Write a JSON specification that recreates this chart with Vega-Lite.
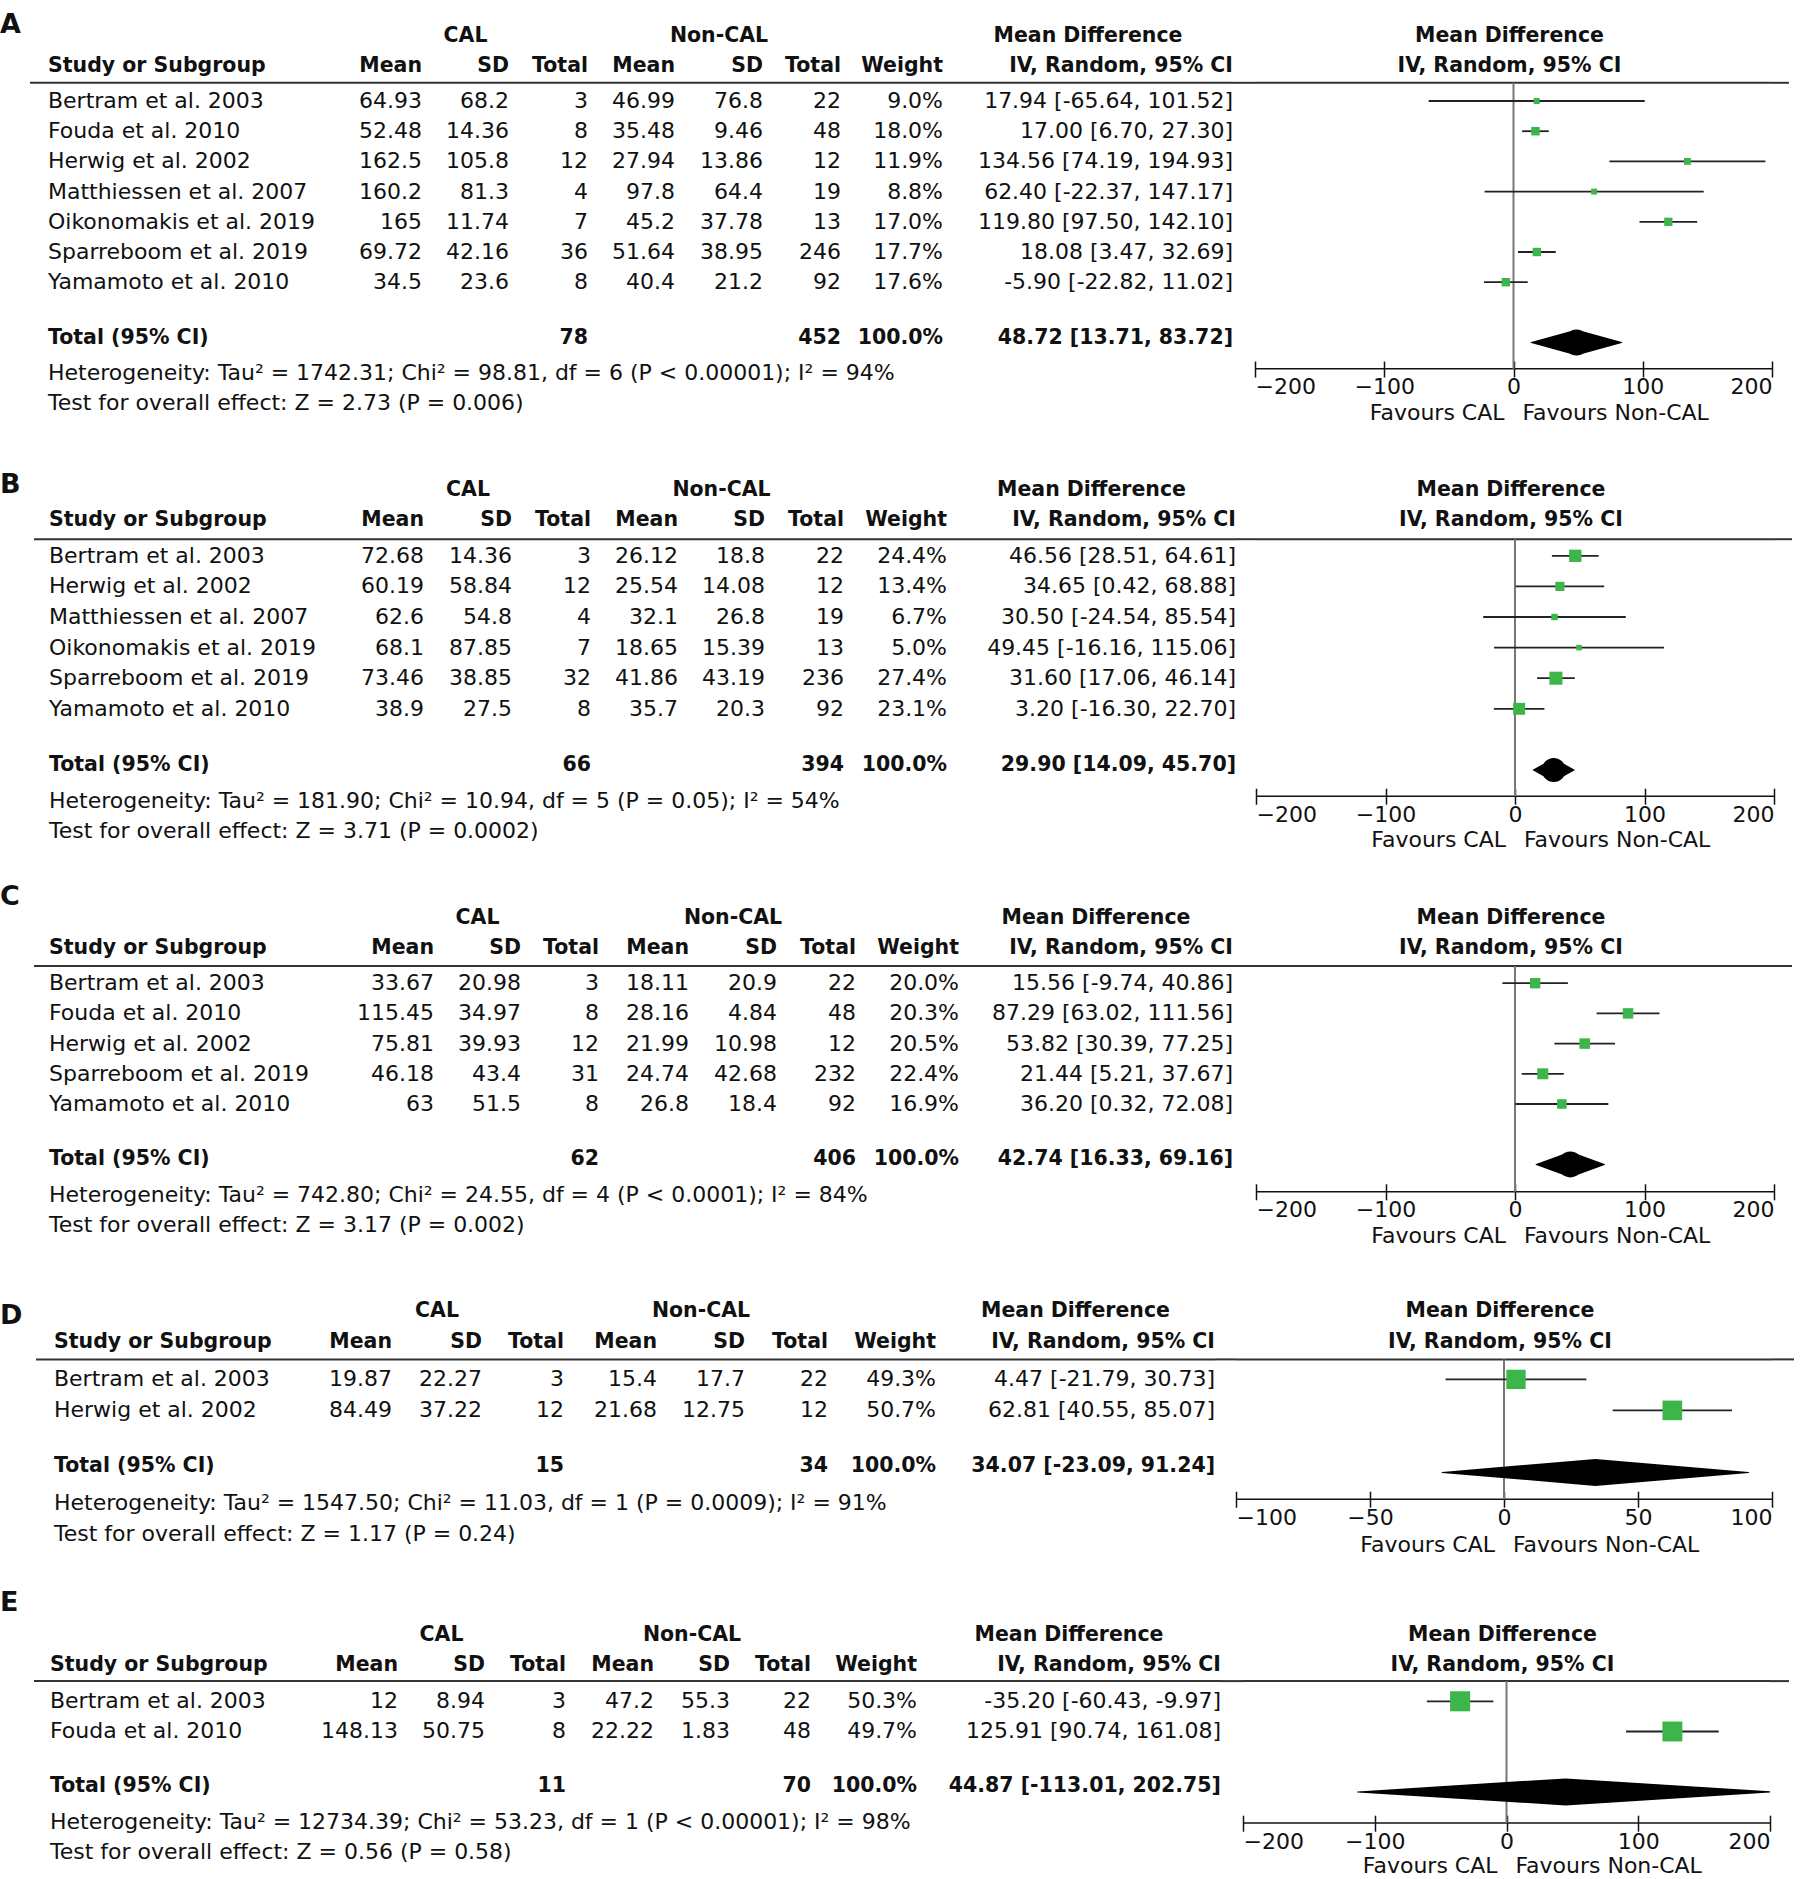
{
"$schema":"https://vega.github.io/schema/vega-lite/v6.json",
"background":"white",
"padding":{"top":10.4,"left":0,"right":0,"bottom":0},
"spacing":0,
"resolve":{"scale":{"size":"independent"}},
"config":{"view":{"stroke":null},"font":"DejaVu Sans","text":{"font":"DejaVu Sans","fontSize":22,"color":"#111","baseline":"middle"}},
"datasets":{
"A":[
{"r":"h1","lab":"A","csd":"CAL","nsd":"Non-CAL","ci":"Mean Difference","f":"Mean Difference"},
{"r":"h2","s":"Study or Subgroup","cm":"Mean","csd":"SD","cn":"Total","nm":"Mean","nsd":"SD","nn":"Total","w":"Weight","ci":"IV, Random, 95% CI","f":"IV, Random, 95% CI"},
{"r":"r1","s":"Bertram et al. 2003","cm":"64.93","csd":"68.2","cn":"3","nm":"46.99","nsd":"76.8","nn":"22","w":"9.0%","ci":"17.94 [-65.64, 101.52]","md":17.94,"lo":-65.64,"hi":101.52,"wt":9.0},
{"r":"r2","s":"Fouda et al. 2010","cm":"52.48","csd":"14.36","cn":"8","nm":"35.48","nsd":"9.46","nn":"48","w":"18.0%","ci":"17.00 [6.70, 27.30]","md":17.0,"lo":6.7,"hi":27.3,"wt":18.0},
{"r":"r3","s":"Herwig et al. 2002","cm":"162.5","csd":"105.8","cn":"12","nm":"27.94","nsd":"13.86","nn":"12","w":"11.9%","ci":"134.56 [74.19, 194.93]","md":134.56,"lo":74.19,"hi":194.93,"wt":11.9},
{"r":"r4","s":"Matthiessen et al. 2007","cm":"160.2","csd":"81.3","cn":"4","nm":"97.8","nsd":"64.4","nn":"19","w":"8.8%","ci":"62.40 [-22.37, 147.17]","md":62.4,"lo":-22.37,"hi":147.17,"wt":8.8},
{"r":"r5","s":"Oikonomakis et al. 2019","cm":"165","csd":"11.74","cn":"7","nm":"45.2","nsd":"37.78","nn":"13","w":"17.0%","ci":"119.80 [97.50, 142.10]","md":119.8,"lo":97.5,"hi":142.1,"wt":17.0},
{"r":"r6","s":"Sparreboom et al. 2019","cm":"69.72","csd":"42.16","cn":"36","nm":"51.64","nsd":"38.95","nn":"246","w":"17.7%","ci":"18.08 [3.47, 32.69]","md":18.08,"lo":3.47,"hi":32.69,"wt":17.7},
{"r":"r7","s":"Yamamoto et al. 2010","cm":"34.5","csd":"23.6","cn":"8","nm":"40.4","nsd":"21.2","nn":"92","w":"17.6%","ci":"-5.90 [-22.82, 11.02]","md":-5.9,"lo":-22.82,"hi":11.02,"wt":17.6},
{"r":"total","s":"Total (95% CI)","cn":"78","nn":"452","w":"100.0%","ci":"48.72 [13.71, 83.72]","md":48.72,"lo":13.71,"hi":83.72},
{"r":"het","s":"Heterogeneity: Tau² = 1742.31; Chi² = 98.81, df = 6 (P < 0.00001); I² = 94%"},
{"r":"test","s":"Test for overall effect: Z = 2.73 (P = 0.006)"}
],
"B":[
{"r":"h1","lab":"B","csd":"CAL","nsd":"Non-CAL","ci":"Mean Difference","f":"Mean Difference"},
{"r":"h2","s":"Study or Subgroup","cm":"Mean","csd":"SD","cn":"Total","nm":"Mean","nsd":"SD","nn":"Total","w":"Weight","ci":"IV, Random, 95% CI","f":"IV, Random, 95% CI"},
{"r":"r1","s":"Bertram et al. 2003","cm":"72.68","csd":"14.36","cn":"3","nm":"26.12","nsd":"18.8","nn":"22","w":"24.4%","ci":"46.56 [28.51, 64.61]","md":46.56,"lo":28.51,"hi":64.61,"wt":24.4},
{"r":"r2","s":"Herwig et al. 2002","cm":"60.19","csd":"58.84","cn":"12","nm":"25.54","nsd":"14.08","nn":"12","w":"13.4%","ci":"34.65 [0.42, 68.88]","md":34.65,"lo":0.42,"hi":68.88,"wt":13.4},
{"r":"r3","s":"Matthiessen et al. 2007","cm":"62.6","csd":"54.8","cn":"4","nm":"32.1","nsd":"26.8","nn":"19","w":"6.7%","ci":"30.50 [-24.54, 85.54]","md":30.5,"lo":-24.54,"hi":85.54,"wt":6.7},
{"r":"r4","s":"Oikonomakis et al. 2019","cm":"68.1","csd":"87.85","cn":"7","nm":"18.65","nsd":"15.39","nn":"13","w":"5.0%","ci":"49.45 [-16.16, 115.06]","md":49.45,"lo":-16.16,"hi":115.06,"wt":5.0},
{"r":"r5","s":"Sparreboom et al. 2019","cm":"73.46","csd":"38.85","cn":"32","nm":"41.86","nsd":"43.19","nn":"236","w":"27.4%","ci":"31.60 [17.06, 46.14]","md":31.6,"lo":17.06,"hi":46.14,"wt":27.4},
{"r":"r6","s":"Yamamoto et al. 2010","cm":"38.9","csd":"27.5","cn":"8","nm":"35.7","nsd":"20.3","nn":"92","w":"23.1%","ci":"3.20 [-16.30, 22.70]","md":3.2,"lo":-16.3,"hi":22.7,"wt":23.1},
{"r":"total","s":"Total (95% CI)","cn":"66","nn":"394","w":"100.0%","ci":"29.90 [14.09, 45.70]","md":29.9,"lo":14.09,"hi":45.7},
{"r":"het","s":"Heterogeneity: Tau² = 181.90; Chi² = 10.94, df = 5 (P = 0.05); I² = 54%"},
{"r":"test","s":"Test for overall effect: Z = 3.71 (P = 0.0002)"}
],
"C":[
{"r":"h1","lab":"C","csd":"CAL","nsd":"Non-CAL","ci":"Mean Difference","f":"Mean Difference"},
{"r":"h2","s":"Study or Subgroup","cm":"Mean","csd":"SD","cn":"Total","nm":"Mean","nsd":"SD","nn":"Total","w":"Weight","ci":"IV, Random, 95% CI","f":"IV, Random, 95% CI"},
{"r":"r1","s":"Bertram et al. 2003","cm":"33.67","csd":"20.98","cn":"3","nm":"18.11","nsd":"20.9","nn":"22","w":"20.0%","ci":"15.56 [-9.74, 40.86]","md":15.56,"lo":-9.74,"hi":40.86,"wt":20.0},
{"r":"r2","s":"Fouda et al. 2010","cm":"115.45","csd":"34.97","cn":"8","nm":"28.16","nsd":"4.84","nn":"48","w":"20.3%","ci":"87.29 [63.02, 111.56]","md":87.29,"lo":63.02,"hi":111.56,"wt":20.3},
{"r":"r3","s":"Herwig et al. 2002","cm":"75.81","csd":"39.93","cn":"12","nm":"21.99","nsd":"10.98","nn":"12","w":"20.5%","ci":"53.82 [30.39, 77.25]","md":53.82,"lo":30.39,"hi":77.25,"wt":20.5},
{"r":"r4","s":"Sparreboom et al. 2019","cm":"46.18","csd":"43.4","cn":"31","nm":"24.74","nsd":"42.68","nn":"232","w":"22.4%","ci":"21.44 [5.21, 37.67]","md":21.44,"lo":5.21,"hi":37.67,"wt":22.4},
{"r":"r5","s":"Yamamoto et al. 2010","cm":"63","csd":"51.5","cn":"8","nm":"26.8","nsd":"18.4","nn":"92","w":"16.9%","ci":"36.20 [0.32, 72.08]","md":36.2,"lo":0.32,"hi":72.08,"wt":16.9},
{"r":"total","s":"Total (95% CI)","cn":"62","nn":"406","w":"100.0%","ci":"42.74 [16.33, 69.16]","md":42.74,"lo":16.33,"hi":69.16},
{"r":"het","s":"Heterogeneity: Tau² = 742.80; Chi² = 24.55, df = 4 (P < 0.0001); I² = 84%"},
{"r":"test","s":"Test for overall effect: Z = 3.17 (P = 0.002)"}
],
"D":[
{"r":"h1","lab":"D","csd":"CAL","nsd":"Non-CAL","ci":"Mean Difference","f":"Mean Difference"},
{"r":"h2","s":"Study or Subgroup","cm":"Mean","csd":"SD","cn":"Total","nm":"Mean","nsd":"SD","nn":"Total","w":"Weight","ci":"IV, Random, 95% CI","f":"IV, Random, 95% CI"},
{"r":"r1","s":"Bertram et al. 2003","cm":"19.87","csd":"22.27","cn":"3","nm":"15.4","nsd":"17.7","nn":"22","w":"49.3%","ci":"4.47 [-21.79, 30.73]","md":4.47,"lo":-21.79,"hi":30.73,"wt":49.3},
{"r":"r2","s":"Herwig et al. 2002","cm":"84.49","csd":"37.22","cn":"12","nm":"21.68","nsd":"12.75","nn":"12","w":"50.7%","ci":"62.81 [40.55, 85.07]","md":62.81,"lo":40.55,"hi":85.07,"wt":50.7},
{"r":"total","s":"Total (95% CI)","cn":"15","nn":"34","w":"100.0%","ci":"34.07 [-23.09, 91.24]","md":34.07,"lo":-23.09,"hi":91.24},
{"r":"het","s":"Heterogeneity: Tau² = 1547.50; Chi² = 11.03, df = 1 (P = 0.0009); I² = 91%"},
{"r":"test","s":"Test for overall effect: Z = 1.17 (P = 0.24)"}
],
"E":[
{"r":"h1","lab":"E","csd":"CAL","nsd":"Non-CAL","ci":"Mean Difference","f":"Mean Difference"},
{"r":"h2","s":"Study or Subgroup","cm":"Mean","csd":"SD","cn":"Total","nm":"Mean","nsd":"SD","nn":"Total","w":"Weight","ci":"IV, Random, 95% CI","f":"IV, Random, 95% CI"},
{"r":"r1","s":"Bertram et al. 2003","cm":"12","csd":"8.94","cn":"3","nm":"47.2","nsd":"55.3","nn":"22","w":"50.3%","ci":"-35.20 [-60.43, -9.97]","md":-35.2,"lo":-60.43,"hi":-9.97,"wt":50.3},
{"r":"r2","s":"Fouda et al. 2010","cm":"148.13","csd":"50.75","cn":"8","nm":"22.22","nsd":"1.83","nn":"48","w":"49.7%","ci":"125.91 [90.74, 161.08]","md":125.91,"lo":90.74,"hi":161.08,"wt":49.7},
{"r":"total","s":"Total (95% CI)","cn":"11","nn":"70","w":"100.0%","ci":"44.87 [-113.01, 202.75]","md":44.87,"lo":-113.01,"hi":202.75},
{"r":"het","s":"Heterogeneity: Tau² = 12734.39; Chi² = 53.23, df = 1 (P < 0.00001); I² = 98%"},
{"r":"test","s":"Test for overall effect: Z = 0.56 (P = 0.58)"}
]
},
"vconcat":[
{"data":{"name":"A"},"spacing":0,"bounds":"flush","hconcat":[
{"width":30,"height":422.8,"transform":[{"filter":"datum.r=='h1'"}],"mark":{"type":"text","align":"left","fontWeight":"bold","fontSize":27,"dy":-16},"encoding":{"y":{"field":"r","type":"nominal","axis":null,"scale":{"type":"point","domain":["t1","h1","h2","r1","r2","r3","r4","r5","r6","r7","sp","total","het","test","b1"],"padding":0,"round":false}},"x":{"value":0},"text":{"field":"lab"}}},
{"width":392,"height":422.8,"encoding":{"y":{"field":"r","type":"nominal","axis":null,"scale":{"type":"point","domain":["t1","h1","h2","r1","r2","r3","r4","r5","r6","r7","sp","total","het","test","b1"],"padding":0,"round":false}}},"layer":[
{"transform":[{"filter":"substring(datum.r,0,1)=='r'||datum.r=='het'||datum.r=='test'"}],"mark":{"type":"text","align":"left","dx":18},"encoding":{"x":{"value":0},"text":{"field":"s"}}},
{"transform":[{"filter":"datum.r=='h2'||datum.r=='total'"}],"mark":{"type":"text","align":"left","dx":18,"dy":-5,"fontWeight":"bold","fontSize":20.5},"encoding":{"x":{"value":0},"text":{"field":"s"}}},
{"transform":[{"filter":"substring(datum.r,0,1)=='r'"}],"mark":{"type":"text","align":"right"},"encoding":{"x":{"value":"width"},"text":{"field":"cm"}}},
{"transform":[{"filter":"datum.r=='h2'"}],"mark":{"type":"text","align":"right","dy":-5,"fontWeight":"bold","fontSize":20.5},"encoding":{"x":{"value":"width"},"text":{"field":"cm"}}},
{"transform":[{"filter":"datum.r=='h2'"}],"mark":{"type":"rule","yOffset":12,"color":"#333","strokeWidth":2},"encoding":{}}
]},
{"width":87,"height":422.8,"encoding":{"y":{"field":"r","type":"nominal","axis":null,"scale":{"type":"point","domain":["t1","h1","h2","r1","r2","r3","r4","r5","r6","r7","sp","total","het","test","b1"],"padding":0,"round":false}}},"layer":[
{"transform":[{"filter":"substring(datum.r,0,1)=='r'"}],"mark":{"type":"text","align":"right"},"encoding":{"x":{"value":"width"},"text":{"field":"csd"}}},
{"transform":[{"filter":"datum.r=='h2'"}],"mark":{"type":"text","align":"right","dy":-5,"fontWeight":"bold","fontSize":20.5},"encoding":{"x":{"value":"width"},"text":{"field":"csd"}}},
{"transform":[{"filter":"datum.r=='h1'"}],"mark":{"type":"text","align":"center","dy":-5,"fontWeight":"bold","fontSize":20.5},"encoding":{"text":{"field":"csd"}}},
{"transform":[{"filter":"datum.r=='h2'"}],"mark":{"type":"rule","yOffset":12,"color":"#333","strokeWidth":2},"encoding":{}}
]},
{"width":79,"height":422.8,"encoding":{"y":{"field":"r","type":"nominal","axis":null,"scale":{"type":"point","domain":["t1","h1","h2","r1","r2","r3","r4","r5","r6","r7","sp","total","het","test","b1"],"padding":0,"round":false}}},"layer":[
{"transform":[{"filter":"substring(datum.r,0,1)=='r'"}],"mark":{"type":"text","align":"right"},"encoding":{"x":{"value":"width"},"text":{"field":"cn"}}},
{"transform":[{"filter":"datum.r=='h2'||datum.r=='total'"}],"mark":{"type":"text","align":"right","dy":-5,"fontWeight":"bold","fontSize":20.5},"encoding":{"x":{"value":"width"},"text":{"field":"cn"}}},
{"transform":[{"filter":"datum.r=='h2'"}],"mark":{"type":"rule","yOffset":12,"color":"#333","strokeWidth":2},"encoding":{}}
]},
{"width":87,"height":422.8,"encoding":{"y":{"field":"r","type":"nominal","axis":null,"scale":{"type":"point","domain":["t1","h1","h2","r1","r2","r3","r4","r5","r6","r7","sp","total","het","test","b1"],"padding":0,"round":false}}},"layer":[
{"transform":[{"filter":"substring(datum.r,0,1)=='r'"}],"mark":{"type":"text","align":"right"},"encoding":{"x":{"value":"width"},"text":{"field":"nm"}}},
{"transform":[{"filter":"datum.r=='h2'"}],"mark":{"type":"text","align":"right","dy":-5,"fontWeight":"bold","fontSize":20.5},"encoding":{"x":{"value":"width"},"text":{"field":"nm"}}},
{"transform":[{"filter":"datum.r=='h2'"}],"mark":{"type":"rule","yOffset":12,"color":"#333","strokeWidth":2},"encoding":{}}
]},
{"width":88,"height":422.8,"encoding":{"y":{"field":"r","type":"nominal","axis":null,"scale":{"type":"point","domain":["t1","h1","h2","r1","r2","r3","r4","r5","r6","r7","sp","total","het","test","b1"],"padding":0,"round":false}}},"layer":[
{"transform":[{"filter":"substring(datum.r,0,1)=='r'"}],"mark":{"type":"text","align":"right"},"encoding":{"x":{"value":"width"},"text":{"field":"nsd"}}},
{"transform":[{"filter":"datum.r=='h2'"}],"mark":{"type":"text","align":"right","dy":-5,"fontWeight":"bold","fontSize":20.5},"encoding":{"x":{"value":"width"},"text":{"field":"nsd"}}},
{"transform":[{"filter":"datum.r=='h1'"}],"mark":{"type":"text","align":"center","dy":-5,"fontWeight":"bold","fontSize":20.5},"encoding":{"text":{"field":"nsd"}}},
{"transform":[{"filter":"datum.r=='h2'"}],"mark":{"type":"rule","yOffset":12,"color":"#333","strokeWidth":2},"encoding":{}}
]},
{"width":78,"height":422.8,"encoding":{"y":{"field":"r","type":"nominal","axis":null,"scale":{"type":"point","domain":["t1","h1","h2","r1","r2","r3","r4","r5","r6","r7","sp","total","het","test","b1"],"padding":0,"round":false}}},"layer":[
{"transform":[{"filter":"substring(datum.r,0,1)=='r'"}],"mark":{"type":"text","align":"right"},"encoding":{"x":{"value":"width"},"text":{"field":"nn"}}},
{"transform":[{"filter":"datum.r=='h2'||datum.r=='total'"}],"mark":{"type":"text","align":"right","dy":-5,"fontWeight":"bold","fontSize":20.5},"encoding":{"x":{"value":"width"},"text":{"field":"nn"}}},
{"transform":[{"filter":"datum.r=='h2'"}],"mark":{"type":"rule","yOffset":12,"color":"#333","strokeWidth":2},"encoding":{}}
]},
{"width":102,"height":422.8,"encoding":{"y":{"field":"r","type":"nominal","axis":null,"scale":{"type":"point","domain":["t1","h1","h2","r1","r2","r3","r4","r5","r6","r7","sp","total","het","test","b1"],"padding":0,"round":false}}},"layer":[
{"transform":[{"filter":"substring(datum.r,0,1)=='r'"}],"mark":{"type":"text","align":"right"},"encoding":{"x":{"value":"width"},"text":{"field":"w"}}},
{"transform":[{"filter":"datum.r=='h2'||datum.r=='total'"}],"mark":{"type":"text","align":"right","dy":-5,"fontWeight":"bold","fontSize":20.5},"encoding":{"x":{"value":"width"},"text":{"field":"w"}}},
{"transform":[{"filter":"datum.r=='h2'"}],"mark":{"type":"rule","yOffset":12,"color":"#333","strokeWidth":2},"encoding":{}}
]},
{"width":290,"height":422.8,"encoding":{"y":{"field":"r","type":"nominal","axis":null,"scale":{"type":"point","domain":["t1","h1","h2","r1","r2","r3","r4","r5","r6","r7","sp","total","het","test","b1"],"padding":0,"round":false}}},"layer":[
{"transform":[{"filter":"substring(datum.r,0,1)=='r'"}],"mark":{"type":"text","align":"right"},"encoding":{"x":{"value":"width"},"text":{"field":"ci"}}},
{"transform":[{"filter":"datum.r=='h2'||datum.r=='total'"}],"mark":{"type":"text","align":"right","dy":-5,"fontWeight":"bold","fontSize":20.5},"encoding":{"x":{"value":"width"},"text":{"field":"ci"}}},
{"transform":[{"filter":"datum.r=='h1'"}],"mark":{"type":"text","align":"center","dy":-5,"fontWeight":"bold","fontSize":20.5},"encoding":{"text":{"field":"ci"}}},
{"transform":[{"filter":"datum.r=='h2'"}],"mark":{"type":"rule","yOffset":12,"color":"#333","strokeWidth":2},"encoding":{}}
]},
{"width":22,"height":422.8,"transform":[{"filter":"datum.r=='h2'"}],"mark":{"type":"rule","yOffset":12,"color":"#333","strokeWidth":2},"encoding":{"y":{"field":"r","type":"nominal","axis":null,"scale":{"type":"point","domain":["t1","h1","h2","r1","r2","r3","r4","r5","r6","r7","sp","total","het","test","b1"],"padding":0,"round":false}}}},
{"width":517,"height":422.8,"encoding":{"y":{"field":"r","type":"nominal","axis":null,"scale":{"type":"point","domain":["t1","h1","h2","r1","r2","r3","r4","r5","r6","r7","sp","total","het","test","b1"],"padding":0,"round":false}}},"layer":[
{"transform":[{"filter":"datum.r=='h1'||datum.r=='h2'"}],"mark":{"type":"text","align":"center","dx":-4,"dy":-5,"fontWeight":"bold","fontSize":20.5},"encoding":{"x":{"datum":0,"type":"quantitative","scale":{"domain":[-200,200],"nice":false,"zero":false},"axis":{"values":[-200,-100,0,100,200],"labelFlush":true,"title":null,"grid":false,"offset":-72.2,"domain":false,"tickColor":"#111","tickWidth":1.5,"tickSize":16,"labelPadding":0,"labelFontSize":22,"labelColor":"#111","labelFont":"DejaVu Sans"}},"text":{"field":"f"}}},
{"transform":[{"filter":"datum.r=='h2'"}],"mark":{"type":"rule","yOffset":12,"color":"#333","strokeWidth":2},"encoding":{}},
{"transform":[{"filter":"datum.r=='h2'"}],"mark":{"type":"rule","yOffset":-4,"color":"#111","strokeWidth":1.5},"encoding":{"y":{"datum":"het","type":"nominal"}}},
{"transform":[{"filter":"datum.r=='h2'"}],"mark":{"type":"rule","yOffset":12,"y2Offset":-4,"color":"#777","strokeWidth":2},"encoding":{"x":{"datum":0,"type":"quantitative","scale":{"domain":[-200,200],"nice":false,"zero":false},"axis":{"values":[-200,-100,0,100,200],"labelFlush":true,"title":null,"grid":false,"offset":-72.2,"domain":false,"tickColor":"#111","tickWidth":1.5,"tickSize":16,"labelPadding":0,"labelFontSize":22,"labelColor":"#111","labelFont":"DejaVu Sans"}},"y":{"datum":"h2","type":"nominal"},"y2":{"datum":"het"}}},
{"transform":[{"filter":"substring(datum.r,0,1)=='r'"}],"mark":{"type":"rule","color":"#222","strokeWidth":1.8},"encoding":{"x":{"field":"lo","type":"quantitative","scale":{"domain":[-200,200],"nice":false,"zero":false},"axis":{"values":[-200,-100,0,100,200],"labelFlush":true,"title":null,"grid":false,"offset":-72.2,"domain":false,"tickColor":"#111","tickWidth":1.5,"tickSize":16,"labelPadding":0,"labelFontSize":22,"labelColor":"#111","labelFont":"DejaVu Sans"}},"x2":{"field":"hi"}}},
{"transform":[{"filter":"substring(datum.r,0,1)=='r'"}],"mark":{"type":"square","filled":true,"color":"#3cb54a","opacity":1},"encoding":{"x":{"field":"md","type":"quantitative","scale":{"domain":[-200,200],"nice":false,"zero":false},"axis":{"values":[-200,-100,0,100,200],"labelFlush":true,"title":null,"grid":false,"offset":-72.2,"domain":false,"tickColor":"#111","tickWidth":1.5,"tickSize":16,"labelPadding":0,"labelFontSize":22,"labelColor":"#111","labelFont":"DejaVu Sans"}},"size":{"field":"wt","type":"quantitative","scale":{"domain":[0,50],"range":[0,200]},"legend":null}}},
{"transform":[{"filter":"datum.r=='total'"},{"fold":["lo","md","hi"],"as":["k","v"]}],"mark":{"type":"trail","color":"#000","clip":true},"encoding":{"x":{"field":"v","type":"quantitative","scale":{"domain":[-200,200],"nice":false,"zero":false},"axis":{"values":[-200,-100,0,100,200],"labelFlush":true,"title":null,"grid":false,"offset":-72.2,"domain":false,"tickColor":"#111","tickWidth":1.5,"tickSize":16,"labelPadding":0,"labelFontSize":22,"labelColor":"#111","labelFont":"DejaVu Sans"}},"size":{"condition":{"test":"datum.k=='md'","value":26},"value":0}}},
{"transform":[{"filter":"datum.r=='test'"}],"mark":{"type":"text","align":"right","dx":-9,"dy":10},"encoding":{"x":{"datum":0,"type":"quantitative","scale":{"domain":[-200,200],"nice":false,"zero":false},"axis":{"values":[-200,-100,0,100,200],"labelFlush":true,"title":null,"grid":false,"offset":-72.2,"domain":false,"tickColor":"#111","tickWidth":1.5,"tickSize":16,"labelPadding":0,"labelFontSize":22,"labelColor":"#111","labelFont":"DejaVu Sans"}},"text":{"value":"Favours CAL"}}},
{"transform":[{"filter":"datum.r=='test'"}],"mark":{"type":"text","align":"left","dx":9,"dy":10},"encoding":{"x":{"datum":0,"type":"quantitative","scale":{"domain":[-200,200],"nice":false,"zero":false},"axis":{"values":[-200,-100,0,100,200],"labelFlush":true,"title":null,"grid":false,"offset":-72.2,"domain":false,"tickColor":"#111","tickWidth":1.5,"tickSize":16,"labelPadding":0,"labelFontSize":22,"labelColor":"#111","labelFont":"DejaVu Sans"}},"text":{"value":"Favours Non-CAL"}}}
]},
{"width":17,"height":422.8,"transform":[{"filter":"datum.r=='h2'"}],"mark":{"type":"rule","yOffset":12,"color":"#333","strokeWidth":2},"encoding":{"y":{"field":"r","type":"nominal","axis":null,"scale":{"type":"point","domain":["t1","h1","h2","r1","r2","r3","r4","r5","r6","r7","sp","total","het","test","b1"],"padding":0,"round":false}}}}
]},
{"data":{"name":"B"},"spacing":0,"bounds":"flush","hconcat":[
{"width":34,"height":428.4,"transform":[{"filter":"datum.r=='h1'"}],"mark":{"type":"text","align":"left","fontWeight":"bold","fontSize":27,"dy":-10},"encoding":{"y":{"field":"r","type":"nominal","axis":null,"scale":{"type":"point","domain":["t1","t2","h1","h2","r1","r2","r3","r4","r5","r6","sp","total","het","test","b1"],"padding":0,"round":false}},"x":{"value":0},"text":{"field":"lab"}}},
{"width":390,"height":428.4,"encoding":{"y":{"field":"r","type":"nominal","axis":null,"scale":{"type":"point","domain":["t1","t2","h1","h2","r1","r2","r3","r4","r5","r6","sp","total","het","test","b1"],"padding":0,"round":false}}},"layer":[
{"transform":[{"filter":"substring(datum.r,0,1)=='r'||datum.r=='het'||datum.r=='test'"}],"mark":{"type":"text","align":"left","dx":15},"encoding":{"x":{"value":0},"text":{"field":"s"}}},
{"transform":[{"filter":"datum.r=='h2'||datum.r=='total'"}],"mark":{"type":"text","align":"left","dx":15,"dy":-5,"fontWeight":"bold","fontSize":20.5},"encoding":{"x":{"value":0},"text":{"field":"s"}}},
{"transform":[{"filter":"substring(datum.r,0,1)=='r'"}],"mark":{"type":"text","align":"right"},"encoding":{"x":{"value":"width"},"text":{"field":"cm"}}},
{"transform":[{"filter":"datum.r=='h2'"}],"mark":{"type":"text","align":"right","dy":-5,"fontWeight":"bold","fontSize":20.5},"encoding":{"x":{"value":"width"},"text":{"field":"cm"}}},
{"transform":[{"filter":"datum.r=='h2'"}],"mark":{"type":"rule","yOffset":14,"color":"#333","strokeWidth":2},"encoding":{}}
]},
{"width":88,"height":428.4,"encoding":{"y":{"field":"r","type":"nominal","axis":null,"scale":{"type":"point","domain":["t1","t2","h1","h2","r1","r2","r3","r4","r5","r6","sp","total","het","test","b1"],"padding":0,"round":false}}},"layer":[
{"transform":[{"filter":"substring(datum.r,0,1)=='r'"}],"mark":{"type":"text","align":"right"},"encoding":{"x":{"value":"width"},"text":{"field":"csd"}}},
{"transform":[{"filter":"datum.r=='h2'"}],"mark":{"type":"text","align":"right","dy":-5,"fontWeight":"bold","fontSize":20.5},"encoding":{"x":{"value":"width"},"text":{"field":"csd"}}},
{"transform":[{"filter":"datum.r=='h1'"}],"mark":{"type":"text","align":"center","dy":-5,"fontWeight":"bold","fontSize":20.5},"encoding":{"text":{"field":"csd"}}},
{"transform":[{"filter":"datum.r=='h2'"}],"mark":{"type":"rule","yOffset":14,"color":"#333","strokeWidth":2},"encoding":{}}
]},
{"width":79,"height":428.4,"encoding":{"y":{"field":"r","type":"nominal","axis":null,"scale":{"type":"point","domain":["t1","t2","h1","h2","r1","r2","r3","r4","r5","r6","sp","total","het","test","b1"],"padding":0,"round":false}}},"layer":[
{"transform":[{"filter":"substring(datum.r,0,1)=='r'"}],"mark":{"type":"text","align":"right"},"encoding":{"x":{"value":"width"},"text":{"field":"cn"}}},
{"transform":[{"filter":"datum.r=='h2'||datum.r=='total'"}],"mark":{"type":"text","align":"right","dy":-5,"fontWeight":"bold","fontSize":20.5},"encoding":{"x":{"value":"width"},"text":{"field":"cn"}}},
{"transform":[{"filter":"datum.r=='h2'"}],"mark":{"type":"rule","yOffset":14,"color":"#333","strokeWidth":2},"encoding":{}}
]},
{"width":87,"height":428.4,"encoding":{"y":{"field":"r","type":"nominal","axis":null,"scale":{"type":"point","domain":["t1","t2","h1","h2","r1","r2","r3","r4","r5","r6","sp","total","het","test","b1"],"padding":0,"round":false}}},"layer":[
{"transform":[{"filter":"substring(datum.r,0,1)=='r'"}],"mark":{"type":"text","align":"right"},"encoding":{"x":{"value":"width"},"text":{"field":"nm"}}},
{"transform":[{"filter":"datum.r=='h2'"}],"mark":{"type":"text","align":"right","dy":-5,"fontWeight":"bold","fontSize":20.5},"encoding":{"x":{"value":"width"},"text":{"field":"nm"}}},
{"transform":[{"filter":"datum.r=='h2'"}],"mark":{"type":"rule","yOffset":14,"color":"#333","strokeWidth":2},"encoding":{}}
]},
{"width":87,"height":428.4,"encoding":{"y":{"field":"r","type":"nominal","axis":null,"scale":{"type":"point","domain":["t1","t2","h1","h2","r1","r2","r3","r4","r5","r6","sp","total","het","test","b1"],"padding":0,"round":false}}},"layer":[
{"transform":[{"filter":"substring(datum.r,0,1)=='r'"}],"mark":{"type":"text","align":"right"},"encoding":{"x":{"value":"width"},"text":{"field":"nsd"}}},
{"transform":[{"filter":"datum.r=='h2'"}],"mark":{"type":"text","align":"right","dy":-5,"fontWeight":"bold","fontSize":20.5},"encoding":{"x":{"value":"width"},"text":{"field":"nsd"}}},
{"transform":[{"filter":"datum.r=='h1'"}],"mark":{"type":"text","align":"center","dy":-5,"fontWeight":"bold","fontSize":20.5},"encoding":{"text":{"field":"nsd"}}},
{"transform":[{"filter":"datum.r=='h2'"}],"mark":{"type":"rule","yOffset":14,"color":"#333","strokeWidth":2},"encoding":{}}
]},
{"width":79,"height":428.4,"encoding":{"y":{"field":"r","type":"nominal","axis":null,"scale":{"type":"point","domain":["t1","t2","h1","h2","r1","r2","r3","r4","r5","r6","sp","total","het","test","b1"],"padding":0,"round":false}}},"layer":[
{"transform":[{"filter":"substring(datum.r,0,1)=='r'"}],"mark":{"type":"text","align":"right"},"encoding":{"x":{"value":"width"},"text":{"field":"nn"}}},
{"transform":[{"filter":"datum.r=='h2'||datum.r=='total'"}],"mark":{"type":"text","align":"right","dy":-5,"fontWeight":"bold","fontSize":20.5},"encoding":{"x":{"value":"width"},"text":{"field":"nn"}}},
{"transform":[{"filter":"datum.r=='h2'"}],"mark":{"type":"rule","yOffset":14,"color":"#333","strokeWidth":2},"encoding":{}}
]},
{"width":103,"height":428.4,"encoding":{"y":{"field":"r","type":"nominal","axis":null,"scale":{"type":"point","domain":["t1","t2","h1","h2","r1","r2","r3","r4","r5","r6","sp","total","het","test","b1"],"padding":0,"round":false}}},"layer":[
{"transform":[{"filter":"substring(datum.r,0,1)=='r'"}],"mark":{"type":"text","align":"right"},"encoding":{"x":{"value":"width"},"text":{"field":"w"}}},
{"transform":[{"filter":"datum.r=='h2'||datum.r=='total'"}],"mark":{"type":"text","align":"right","dy":-5,"fontWeight":"bold","fontSize":20.5},"encoding":{"x":{"value":"width"},"text":{"field":"w"}}},
{"transform":[{"filter":"datum.r=='h2'"}],"mark":{"type":"rule","yOffset":14,"color":"#333","strokeWidth":2},"encoding":{}}
]},
{"width":289,"height":428.4,"encoding":{"y":{"field":"r","type":"nominal","axis":null,"scale":{"type":"point","domain":["t1","t2","h1","h2","r1","r2","r3","r4","r5","r6","sp","total","het","test","b1"],"padding":0,"round":false}}},"layer":[
{"transform":[{"filter":"substring(datum.r,0,1)=='r'"}],"mark":{"type":"text","align":"right"},"encoding":{"x":{"value":"width"},"text":{"field":"ci"}}},
{"transform":[{"filter":"datum.r=='h2'||datum.r=='total'"}],"mark":{"type":"text","align":"right","dy":-5,"fontWeight":"bold","fontSize":20.5},"encoding":{"x":{"value":"width"},"text":{"field":"ci"}}},
{"transform":[{"filter":"datum.r=='h1'"}],"mark":{"type":"text","align":"center","dy":-5,"fontWeight":"bold","fontSize":20.5},"encoding":{"text":{"field":"ci"}}},
{"transform":[{"filter":"datum.r=='h2'"}],"mark":{"type":"rule","yOffset":14,"color":"#333","strokeWidth":2},"encoding":{}}
]},
{"width":20,"height":428.4,"transform":[{"filter":"datum.r=='h2'"}],"mark":{"type":"rule","yOffset":14,"color":"#333","strokeWidth":2},"encoding":{"y":{"field":"r","type":"nominal","axis":null,"scale":{"type":"point","domain":["t1","t2","h1","h2","r1","r2","r3","r4","r5","r6","sp","total","het","test","b1"],"padding":0,"round":false}}}},
{"width":518,"height":428.4,"encoding":{"y":{"field":"r","type":"nominal","axis":null,"scale":{"type":"point","domain":["t1","t2","h1","h2","r1","r2","r3","r4","r5","r6","sp","total","het","test","b1"],"padding":0,"round":false}}},"layer":[
{"transform":[{"filter":"datum.r=='h1'||datum.r=='h2'"}],"mark":{"type":"text","align":"center","dx":-4,"dy":-5,"fontWeight":"bold","fontSize":20.5},"encoding":{"x":{"datum":0,"type":"quantitative","scale":{"domain":[-200,200],"nice":false,"zero":false},"axis":{"values":[-200,-100,0,100,200],"labelFlush":true,"title":null,"grid":false,"offset":-73.6,"domain":false,"tickColor":"#111","tickWidth":1.5,"tickSize":16,"labelPadding":0,"labelFontSize":22,"labelColor":"#111","labelFont":"DejaVu Sans"}},"text":{"field":"f"}}},
{"transform":[{"filter":"datum.r=='h2'"}],"mark":{"type":"rule","yOffset":14,"color":"#333","strokeWidth":2},"encoding":{}},
{"transform":[{"filter":"datum.r=='h2'"}],"mark":{"type":"rule","yOffset":-4.4,"color":"#111","strokeWidth":1.5},"encoding":{"y":{"datum":"het","type":"nominal"}}},
{"transform":[{"filter":"datum.r=='h2'"}],"mark":{"type":"rule","yOffset":14,"y2Offset":-4.4,"color":"#777","strokeWidth":2},"encoding":{"x":{"datum":0,"type":"quantitative","scale":{"domain":[-200,200],"nice":false,"zero":false},"axis":{"values":[-200,-100,0,100,200],"labelFlush":true,"title":null,"grid":false,"offset":-73.6,"domain":false,"tickColor":"#111","tickWidth":1.5,"tickSize":16,"labelPadding":0,"labelFontSize":22,"labelColor":"#111","labelFont":"DejaVu Sans"}},"y":{"datum":"h2","type":"nominal"},"y2":{"datum":"het"}}},
{"transform":[{"filter":"substring(datum.r,0,1)=='r'"}],"mark":{"type":"rule","color":"#222","strokeWidth":1.8},"encoding":{"x":{"field":"lo","type":"quantitative","scale":{"domain":[-200,200],"nice":false,"zero":false},"axis":{"values":[-200,-100,0,100,200],"labelFlush":true,"title":null,"grid":false,"offset":-73.6,"domain":false,"tickColor":"#111","tickWidth":1.5,"tickSize":16,"labelPadding":0,"labelFontSize":22,"labelColor":"#111","labelFont":"DejaVu Sans"}},"x2":{"field":"hi"}}},
{"transform":[{"filter":"substring(datum.r,0,1)=='r'"}],"mark":{"type":"square","filled":true,"color":"#3cb54a","opacity":1},"encoding":{"x":{"field":"md","type":"quantitative","scale":{"domain":[-200,200],"nice":false,"zero":false},"axis":{"values":[-200,-100,0,100,200],"labelFlush":true,"title":null,"grid":false,"offset":-73.6,"domain":false,"tickColor":"#111","tickWidth":1.5,"tickSize":16,"labelPadding":0,"labelFontSize":22,"labelColor":"#111","labelFont":"DejaVu Sans"}},"size":{"field":"wt","type":"quantitative","scale":{"domain":[0,50],"range":[0,310]},"legend":null}}},
{"transform":[{"filter":"datum.r=='total'"},{"fold":["lo","md","hi"],"as":["k","v"]}],"mark":{"type":"trail","color":"#000","clip":true},"encoding":{"x":{"field":"v","type":"quantitative","scale":{"domain":[-200,200],"nice":false,"zero":false},"axis":{"values":[-200,-100,0,100,200],"labelFlush":true,"title":null,"grid":false,"offset":-73.6,"domain":false,"tickColor":"#111","tickWidth":1.5,"tickSize":16,"labelPadding":0,"labelFontSize":22,"labelColor":"#111","labelFont":"DejaVu Sans"}},"size":{"condition":{"test":"datum.k=='md'","value":24},"value":0}}},
{"transform":[{"filter":"datum.r=='test'"}],"mark":{"type":"text","align":"right","dx":-9,"dy":9},"encoding":{"x":{"datum":0,"type":"quantitative","scale":{"domain":[-200,200],"nice":false,"zero":false},"axis":{"values":[-200,-100,0,100,200],"labelFlush":true,"title":null,"grid":false,"offset":-73.6,"domain":false,"tickColor":"#111","tickWidth":1.5,"tickSize":16,"labelPadding":0,"labelFontSize":22,"labelColor":"#111","labelFont":"DejaVu Sans"}},"text":{"value":"Favours CAL"}}},
{"transform":[{"filter":"datum.r=='test'"}],"mark":{"type":"text","align":"left","dx":9,"dy":9},"encoding":{"x":{"datum":0,"type":"quantitative","scale":{"domain":[-200,200],"nice":false,"zero":false},"axis":{"values":[-200,-100,0,100,200],"labelFlush":true,"title":null,"grid":false,"offset":-73.6,"domain":false,"tickColor":"#111","tickWidth":1.5,"tickSize":16,"labelPadding":0,"labelFontSize":22,"labelColor":"#111","labelFont":"DejaVu Sans"}},"text":{"value":"Favours Non-CAL"}}}
]},
{"width":18,"height":428.4,"transform":[{"filter":"datum.r=='h2'"}],"mark":{"type":"rule","yOffset":14,"color":"#333","strokeWidth":2},"encoding":{"y":{"field":"r","type":"nominal","axis":null,"scale":{"type":"point","domain":["t1","t2","h1","h2","r1","r2","r3","r4","r5","r6","sp","total","het","test","b1"],"padding":0,"round":false}}}}
]},
{"data":{"name":"C"},"spacing":0,"bounds":"flush","hconcat":[
{"width":34,"height":392.6,"transform":[{"filter":"datum.r=='h1'"}],"mark":{"type":"text","align":"left","fontWeight":"bold","fontSize":27,"dy":-26},"encoding":{"y":{"field":"r","type":"nominal","axis":null,"scale":{"type":"point","domain":["t1","t2","h1","h2","r1","r2","r3","r4","r5","sp","total","het","test","b1"],"padding":0,"round":false}},"x":{"value":0},"text":{"field":"lab"}}},
{"width":400,"height":392.6,"encoding":{"y":{"field":"r","type":"nominal","axis":null,"scale":{"type":"point","domain":["t1","t2","h1","h2","r1","r2","r3","r4","r5","sp","total","het","test","b1"],"padding":0,"round":false}}},"layer":[
{"transform":[{"filter":"substring(datum.r,0,1)=='r'||datum.r=='het'||datum.r=='test'"}],"mark":{"type":"text","align":"left","dx":15},"encoding":{"x":{"value":0},"text":{"field":"s"}}},
{"transform":[{"filter":"datum.r=='h2'||datum.r=='total'"}],"mark":{"type":"text","align":"left","dx":15,"dy":-5,"fontWeight":"bold","fontSize":20.5},"encoding":{"x":{"value":0},"text":{"field":"s"}}},
{"transform":[{"filter":"substring(datum.r,0,1)=='r'"}],"mark":{"type":"text","align":"right"},"encoding":{"x":{"value":"width"},"text":{"field":"cm"}}},
{"transform":[{"filter":"datum.r=='h2'"}],"mark":{"type":"text","align":"right","dy":-5,"fontWeight":"bold","fontSize":20.5},"encoding":{"x":{"value":"width"},"text":{"field":"cm"}}},
{"transform":[{"filter":"datum.r=='h2'"}],"mark":{"type":"rule","yOffset":13,"color":"#333","strokeWidth":2},"encoding":{}}
]},
{"width":87,"height":392.6,"encoding":{"y":{"field":"r","type":"nominal","axis":null,"scale":{"type":"point","domain":["t1","t2","h1","h2","r1","r2","r3","r4","r5","sp","total","het","test","b1"],"padding":0,"round":false}}},"layer":[
{"transform":[{"filter":"substring(datum.r,0,1)=='r'"}],"mark":{"type":"text","align":"right"},"encoding":{"x":{"value":"width"},"text":{"field":"csd"}}},
{"transform":[{"filter":"datum.r=='h2'"}],"mark":{"type":"text","align":"right","dy":-5,"fontWeight":"bold","fontSize":20.5},"encoding":{"x":{"value":"width"},"text":{"field":"csd"}}},
{"transform":[{"filter":"datum.r=='h1'"}],"mark":{"type":"text","align":"center","dy":-5,"fontWeight":"bold","fontSize":20.5},"encoding":{"text":{"field":"csd"}}},
{"transform":[{"filter":"datum.r=='h2'"}],"mark":{"type":"rule","yOffset":13,"color":"#333","strokeWidth":2},"encoding":{}}
]},
{"width":78,"height":392.6,"encoding":{"y":{"field":"r","type":"nominal","axis":null,"scale":{"type":"point","domain":["t1","t2","h1","h2","r1","r2","r3","r4","r5","sp","total","het","test","b1"],"padding":0,"round":false}}},"layer":[
{"transform":[{"filter":"substring(datum.r,0,1)=='r'"}],"mark":{"type":"text","align":"right"},"encoding":{"x":{"value":"width"},"text":{"field":"cn"}}},
{"transform":[{"filter":"datum.r=='h2'||datum.r=='total'"}],"mark":{"type":"text","align":"right","dy":-5,"fontWeight":"bold","fontSize":20.5},"encoding":{"x":{"value":"width"},"text":{"field":"cn"}}},
{"transform":[{"filter":"datum.r=='h2'"}],"mark":{"type":"rule","yOffset":13,"color":"#333","strokeWidth":2},"encoding":{}}
]},
{"width":90,"height":392.6,"encoding":{"y":{"field":"r","type":"nominal","axis":null,"scale":{"type":"point","domain":["t1","t2","h1","h2","r1","r2","r3","r4","r5","sp","total","het","test","b1"],"padding":0,"round":false}}},"layer":[
{"transform":[{"filter":"substring(datum.r,0,1)=='r'"}],"mark":{"type":"text","align":"right"},"encoding":{"x":{"value":"width"},"text":{"field":"nm"}}},
{"transform":[{"filter":"datum.r=='h2'"}],"mark":{"type":"text","align":"right","dy":-5,"fontWeight":"bold","fontSize":20.5},"encoding":{"x":{"value":"width"},"text":{"field":"nm"}}},
{"transform":[{"filter":"datum.r=='h2'"}],"mark":{"type":"rule","yOffset":13,"color":"#333","strokeWidth":2},"encoding":{}}
]},
{"width":88,"height":392.6,"encoding":{"y":{"field":"r","type":"nominal","axis":null,"scale":{"type":"point","domain":["t1","t2","h1","h2","r1","r2","r3","r4","r5","sp","total","het","test","b1"],"padding":0,"round":false}}},"layer":[
{"transform":[{"filter":"substring(datum.r,0,1)=='r'"}],"mark":{"type":"text","align":"right"},"encoding":{"x":{"value":"width"},"text":{"field":"nsd"}}},
{"transform":[{"filter":"datum.r=='h2'"}],"mark":{"type":"text","align":"right","dy":-5,"fontWeight":"bold","fontSize":20.5},"encoding":{"x":{"value":"width"},"text":{"field":"nsd"}}},
{"transform":[{"filter":"datum.r=='h1'"}],"mark":{"type":"text","align":"center","dy":-5,"fontWeight":"bold","fontSize":20.5},"encoding":{"text":{"field":"nsd"}}},
{"transform":[{"filter":"datum.r=='h2'"}],"mark":{"type":"rule","yOffset":13,"color":"#333","strokeWidth":2},"encoding":{}}
]},
{"width":79,"height":392.6,"encoding":{"y":{"field":"r","type":"nominal","axis":null,"scale":{"type":"point","domain":["t1","t2","h1","h2","r1","r2","r3","r4","r5","sp","total","het","test","b1"],"padding":0,"round":false}}},"layer":[
{"transform":[{"filter":"substring(datum.r,0,1)=='r'"}],"mark":{"type":"text","align":"right"},"encoding":{"x":{"value":"width"},"text":{"field":"nn"}}},
{"transform":[{"filter":"datum.r=='h2'||datum.r=='total'"}],"mark":{"type":"text","align":"right","dy":-5,"fontWeight":"bold","fontSize":20.5},"encoding":{"x":{"value":"width"},"text":{"field":"nn"}}},
{"transform":[{"filter":"datum.r=='h2'"}],"mark":{"type":"rule","yOffset":13,"color":"#333","strokeWidth":2},"encoding":{}}
]},
{"width":103,"height":392.6,"encoding":{"y":{"field":"r","type":"nominal","axis":null,"scale":{"type":"point","domain":["t1","t2","h1","h2","r1","r2","r3","r4","r5","sp","total","het","test","b1"],"padding":0,"round":false}}},"layer":[
{"transform":[{"filter":"substring(datum.r,0,1)=='r'"}],"mark":{"type":"text","align":"right"},"encoding":{"x":{"value":"width"},"text":{"field":"w"}}},
{"transform":[{"filter":"datum.r=='h2'||datum.r=='total'"}],"mark":{"type":"text","align":"right","dy":-5,"fontWeight":"bold","fontSize":20.5},"encoding":{"x":{"value":"width"},"text":{"field":"w"}}},
{"transform":[{"filter":"datum.r=='h2'"}],"mark":{"type":"rule","yOffset":13,"color":"#333","strokeWidth":2},"encoding":{}}
]},
{"width":274,"height":392.6,"encoding":{"y":{"field":"r","type":"nominal","axis":null,"scale":{"type":"point","domain":["t1","t2","h1","h2","r1","r2","r3","r4","r5","sp","total","het","test","b1"],"padding":0,"round":false}}},"layer":[
{"transform":[{"filter":"substring(datum.r,0,1)=='r'"}],"mark":{"type":"text","align":"right"},"encoding":{"x":{"value":"width"},"text":{"field":"ci"}}},
{"transform":[{"filter":"datum.r=='h2'||datum.r=='total'"}],"mark":{"type":"text","align":"right","dy":-5,"fontWeight":"bold","fontSize":20.5},"encoding":{"x":{"value":"width"},"text":{"field":"ci"}}},
{"transform":[{"filter":"datum.r=='h1'"}],"mark":{"type":"text","align":"center","dy":-5,"fontWeight":"bold","fontSize":20.5},"encoding":{"text":{"field":"ci"}}},
{"transform":[{"filter":"datum.r=='h2'"}],"mark":{"type":"rule","yOffset":13,"color":"#333","strokeWidth":2},"encoding":{}}
]},
{"width":23,"height":392.6,"transform":[{"filter":"datum.r=='h2'"}],"mark":{"type":"rule","yOffset":13,"color":"#333","strokeWidth":2},"encoding":{"y":{"field":"r","type":"nominal","axis":null,"scale":{"type":"point","domain":["t1","t2","h1","h2","r1","r2","r3","r4","r5","sp","total","het","test","b1"],"padding":0,"round":false}}}},
{"width":518,"height":392.6,"encoding":{"y":{"field":"r","type":"nominal","axis":null,"scale":{"type":"point","domain":["t1","t2","h1","h2","r1","r2","r3","r4","r5","sp","total","het","test","b1"],"padding":0,"round":false}}},"layer":[
{"transform":[{"filter":"datum.r=='h1'||datum.r=='h2'"}],"mark":{"type":"text","align":"center","dx":-4,"dy":-5,"fontWeight":"bold","fontSize":20.5},"encoding":{"x":{"datum":0,"type":"quantitative","scale":{"domain":[-200,200],"nice":false,"zero":false},"axis":{"values":[-200,-100,0,100,200],"labelFlush":true,"title":null,"grid":false,"offset":-71.2,"domain":false,"tickColor":"#111","tickWidth":1.5,"tickSize":16,"labelPadding":0,"labelFontSize":22,"labelColor":"#111","labelFont":"DejaVu Sans"}},"text":{"field":"f"}}},
{"transform":[{"filter":"datum.r=='h2'"}],"mark":{"type":"rule","yOffset":13,"color":"#333","strokeWidth":2},"encoding":{}},
{"transform":[{"filter":"datum.r=='h2'"}],"mark":{"type":"rule","yOffset":-2.8,"color":"#111","strokeWidth":1.5},"encoding":{"y":{"datum":"het","type":"nominal"}}},
{"transform":[{"filter":"datum.r=='h2'"}],"mark":{"type":"rule","yOffset":13,"y2Offset":-2.8,"color":"#777","strokeWidth":2},"encoding":{"x":{"datum":0,"type":"quantitative","scale":{"domain":[-200,200],"nice":false,"zero":false},"axis":{"values":[-200,-100,0,100,200],"labelFlush":true,"title":null,"grid":false,"offset":-71.2,"domain":false,"tickColor":"#111","tickWidth":1.5,"tickSize":16,"labelPadding":0,"labelFontSize":22,"labelColor":"#111","labelFont":"DejaVu Sans"}},"y":{"datum":"h2","type":"nominal"},"y2":{"datum":"het"}}},
{"transform":[{"filter":"substring(datum.r,0,1)=='r'"}],"mark":{"type":"rule","color":"#222","strokeWidth":1.8},"encoding":{"x":{"field":"lo","type":"quantitative","scale":{"domain":[-200,200],"nice":false,"zero":false},"axis":{"values":[-200,-100,0,100,200],"labelFlush":true,"title":null,"grid":false,"offset":-71.2,"domain":false,"tickColor":"#111","tickWidth":1.5,"tickSize":16,"labelPadding":0,"labelFontSize":22,"labelColor":"#111","labelFont":"DejaVu Sans"}},"x2":{"field":"hi"}}},
{"transform":[{"filter":"substring(datum.r,0,1)=='r'"}],"mark":{"type":"square","filled":true,"color":"#3cb54a","opacity":1},"encoding":{"x":{"field":"md","type":"quantitative","scale":{"domain":[-200,200],"nice":false,"zero":false},"axis":{"values":[-200,-100,0,100,200],"labelFlush":true,"title":null,"grid":false,"offset":-71.2,"domain":false,"tickColor":"#111","tickWidth":1.5,"tickSize":16,"labelPadding":0,"labelFontSize":22,"labelColor":"#111","labelFont":"DejaVu Sans"}},"size":{"field":"wt","type":"quantitative","scale":{"domain":[0,50],"range":[0,270]},"legend":null}}},
{"transform":[{"filter":"datum.r=='total'"},{"fold":["lo","md","hi"],"as":["k","v"]}],"mark":{"type":"trail","color":"#000","clip":true},"encoding":{"x":{"field":"v","type":"quantitative","scale":{"domain":[-200,200],"nice":false,"zero":false},"axis":{"values":[-200,-100,0,100,200],"labelFlush":true,"title":null,"grid":false,"offset":-71.2,"domain":false,"tickColor":"#111","tickWidth":1.5,"tickSize":16,"labelPadding":0,"labelFontSize":22,"labelColor":"#111","labelFont":"DejaVu Sans"}},"size":{"condition":{"test":"datum.k=='md'","value":26},"value":0}}},
{"transform":[{"filter":"datum.r=='test'"}],"mark":{"type":"text","align":"right","dx":-9,"dy":11},"encoding":{"x":{"datum":0,"type":"quantitative","scale":{"domain":[-200,200],"nice":false,"zero":false},"axis":{"values":[-200,-100,0,100,200],"labelFlush":true,"title":null,"grid":false,"offset":-71.2,"domain":false,"tickColor":"#111","tickWidth":1.5,"tickSize":16,"labelPadding":0,"labelFontSize":22,"labelColor":"#111","labelFont":"DejaVu Sans"}},"text":{"value":"Favours CAL"}}},
{"transform":[{"filter":"datum.r=='test'"}],"mark":{"type":"text","align":"left","dx":9,"dy":11},"encoding":{"x":{"datum":0,"type":"quantitative","scale":{"domain":[-200,200],"nice":false,"zero":false},"axis":{"values":[-200,-100,0,100,200],"labelFlush":true,"title":null,"grid":false,"offset":-71.2,"domain":false,"tickColor":"#111","tickWidth":1.5,"tickSize":16,"labelPadding":0,"labelFontSize":22,"labelColor":"#111","labelFont":"DejaVu Sans"}},"text":{"value":"Favours Non-CAL"}}}
]},
{"width":18,"height":392.6,"transform":[{"filter":"datum.r=='h2'"}],"mark":{"type":"rule","yOffset":13,"color":"#333","strokeWidth":2},"encoding":{"y":{"field":"r","type":"nominal","axis":null,"scale":{"type":"point","domain":["t1","t2","h1","h2","r1","r2","r3","r4","r5","sp","total","het","test","b1"],"padding":0,"round":false}}}}
]},
{"data":{"name":"D"},"spacing":0,"bounds":"flush","hconcat":[
{"width":36,"height":310,"transform":[{"filter":"datum.r=='h1'"}],"mark":{"type":"text","align":"left","fontWeight":"bold","fontSize":27,"dy":-1},"encoding":{"y":{"field":"r","type":"nominal","axis":null,"scale":{"type":"point","domain":["t1","t2","h1","h2","r1","r2","sp","total","het","test","b1"],"padding":0,"round":false}},"x":{"value":0},"text":{"field":"lab"}}},
{"width":356,"height":310,"encoding":{"y":{"field":"r","type":"nominal","axis":null,"scale":{"type":"point","domain":["t1","t2","h1","h2","r1","r2","sp","total","het","test","b1"],"padding":0,"round":false}}},"layer":[
{"transform":[{"filter":"substring(datum.r,0,1)=='r'||datum.r=='het'||datum.r=='test'"}],"mark":{"type":"text","align":"left","dx":18},"encoding":{"x":{"value":0},"text":{"field":"s"}}},
{"transform":[{"filter":"datum.r=='h2'||datum.r=='total'"}],"mark":{"type":"text","align":"left","dx":18,"dy":-6,"fontWeight":"bold","fontSize":20.5},"encoding":{"x":{"value":0},"text":{"field":"s"}}},
{"transform":[{"filter":"substring(datum.r,0,1)=='r'"}],"mark":{"type":"text","align":"right"},"encoding":{"x":{"value":"width"},"text":{"field":"cm"}}},
{"transform":[{"filter":"datum.r=='h2'"}],"mark":{"type":"text","align":"right","dy":-6,"fontWeight":"bold","fontSize":20.5},"encoding":{"x":{"value":"width"},"text":{"field":"cm"}}},
{"transform":[{"filter":"datum.r=='h2'"}],"mark":{"type":"rule","yOffset":11,"color":"#333","strokeWidth":2},"encoding":{}}
]},
{"width":90,"height":310,"encoding":{"y":{"field":"r","type":"nominal","axis":null,"scale":{"type":"point","domain":["t1","t2","h1","h2","r1","r2","sp","total","het","test","b1"],"padding":0,"round":false}}},"layer":[
{"transform":[{"filter":"substring(datum.r,0,1)=='r'"}],"mark":{"type":"text","align":"right"},"encoding":{"x":{"value":"width"},"text":{"field":"csd"}}},
{"transform":[{"filter":"datum.r=='h2'"}],"mark":{"type":"text","align":"right","dy":-6,"fontWeight":"bold","fontSize":20.5},"encoding":{"x":{"value":"width"},"text":{"field":"csd"}}},
{"transform":[{"filter":"datum.r=='h1'"}],"mark":{"type":"text","align":"center","dy":-6,"fontWeight":"bold","fontSize":20.5},"encoding":{"text":{"field":"csd"}}},
{"transform":[{"filter":"datum.r=='h2'"}],"mark":{"type":"rule","yOffset":11,"color":"#333","strokeWidth":2},"encoding":{}}
]},
{"width":82,"height":310,"encoding":{"y":{"field":"r","type":"nominal","axis":null,"scale":{"type":"point","domain":["t1","t2","h1","h2","r1","r2","sp","total","het","test","b1"],"padding":0,"round":false}}},"layer":[
{"transform":[{"filter":"substring(datum.r,0,1)=='r'"}],"mark":{"type":"text","align":"right"},"encoding":{"x":{"value":"width"},"text":{"field":"cn"}}},
{"transform":[{"filter":"datum.r=='h2'||datum.r=='total'"}],"mark":{"type":"text","align":"right","dy":-6,"fontWeight":"bold","fontSize":20.5},"encoding":{"x":{"value":"width"},"text":{"field":"cn"}}},
{"transform":[{"filter":"datum.r=='h2'"}],"mark":{"type":"rule","yOffset":11,"color":"#333","strokeWidth":2},"encoding":{}}
]},
{"width":93,"height":310,"encoding":{"y":{"field":"r","type":"nominal","axis":null,"scale":{"type":"point","domain":["t1","t2","h1","h2","r1","r2","sp","total","het","test","b1"],"padding":0,"round":false}}},"layer":[
{"transform":[{"filter":"substring(datum.r,0,1)=='r'"}],"mark":{"type":"text","align":"right"},"encoding":{"x":{"value":"width"},"text":{"field":"nm"}}},
{"transform":[{"filter":"datum.r=='h2'"}],"mark":{"type":"text","align":"right","dy":-6,"fontWeight":"bold","fontSize":20.5},"encoding":{"x":{"value":"width"},"text":{"field":"nm"}}},
{"transform":[{"filter":"datum.r=='h2'"}],"mark":{"type":"rule","yOffset":11,"color":"#333","strokeWidth":2},"encoding":{}}
]},
{"width":88,"height":310,"encoding":{"y":{"field":"r","type":"nominal","axis":null,"scale":{"type":"point","domain":["t1","t2","h1","h2","r1","r2","sp","total","het","test","b1"],"padding":0,"round":false}}},"layer":[
{"transform":[{"filter":"substring(datum.r,0,1)=='r'"}],"mark":{"type":"text","align":"right"},"encoding":{"x":{"value":"width"},"text":{"field":"nsd"}}},
{"transform":[{"filter":"datum.r=='h2'"}],"mark":{"type":"text","align":"right","dy":-6,"fontWeight":"bold","fontSize":20.5},"encoding":{"x":{"value":"width"},"text":{"field":"nsd"}}},
{"transform":[{"filter":"datum.r=='h1'"}],"mark":{"type":"text","align":"center","dy":-6,"fontWeight":"bold","fontSize":20.5},"encoding":{"text":{"field":"nsd"}}},
{"transform":[{"filter":"datum.r=='h2'"}],"mark":{"type":"rule","yOffset":11,"color":"#333","strokeWidth":2},"encoding":{}}
]},
{"width":83,"height":310,"encoding":{"y":{"field":"r","type":"nominal","axis":null,"scale":{"type":"point","domain":["t1","t2","h1","h2","r1","r2","sp","total","het","test","b1"],"padding":0,"round":false}}},"layer":[
{"transform":[{"filter":"substring(datum.r,0,1)=='r'"}],"mark":{"type":"text","align":"right"},"encoding":{"x":{"value":"width"},"text":{"field":"nn"}}},
{"transform":[{"filter":"datum.r=='h2'||datum.r=='total'"}],"mark":{"type":"text","align":"right","dy":-6,"fontWeight":"bold","fontSize":20.5},"encoding":{"x":{"value":"width"},"text":{"field":"nn"}}},
{"transform":[{"filter":"datum.r=='h2'"}],"mark":{"type":"rule","yOffset":11,"color":"#333","strokeWidth":2},"encoding":{}}
]},
{"width":108,"height":310,"encoding":{"y":{"field":"r","type":"nominal","axis":null,"scale":{"type":"point","domain":["t1","t2","h1","h2","r1","r2","sp","total","het","test","b1"],"padding":0,"round":false}}},"layer":[
{"transform":[{"filter":"substring(datum.r,0,1)=='r'"}],"mark":{"type":"text","align":"right"},"encoding":{"x":{"value":"width"},"text":{"field":"w"}}},
{"transform":[{"filter":"datum.r=='h2'||datum.r=='total'"}],"mark":{"type":"text","align":"right","dy":-6,"fontWeight":"bold","fontSize":20.5},"encoding":{"x":{"value":"width"},"text":{"field":"w"}}},
{"transform":[{"filter":"datum.r=='h2'"}],"mark":{"type":"rule","yOffset":11,"color":"#333","strokeWidth":2},"encoding":{}}
]},
{"width":279,"height":310,"encoding":{"y":{"field":"r","type":"nominal","axis":null,"scale":{"type":"point","domain":["t1","t2","h1","h2","r1","r2","sp","total","het","test","b1"],"padding":0,"round":false}}},"layer":[
{"transform":[{"filter":"substring(datum.r,0,1)=='r'"}],"mark":{"type":"text","align":"right"},"encoding":{"x":{"value":"width"},"text":{"field":"ci"}}},
{"transform":[{"filter":"datum.r=='h2'||datum.r=='total'"}],"mark":{"type":"text","align":"right","dy":-6,"fontWeight":"bold","fontSize":20.5},"encoding":{"x":{"value":"width"},"text":{"field":"ci"}}},
{"transform":[{"filter":"datum.r=='h1'"}],"mark":{"type":"text","align":"center","dy":-6,"fontWeight":"bold","fontSize":20.5},"encoding":{"text":{"field":"ci"}}},
{"transform":[{"filter":"datum.r=='h2'"}],"mark":{"type":"rule","yOffset":11,"color":"#333","strokeWidth":2},"encoding":{}}
]},
{"width":21,"height":310,"transform":[{"filter":"datum.r=='h2'"}],"mark":{"type":"rule","yOffset":11,"color":"#333","strokeWidth":2},"encoding":{"y":{"field":"r","type":"nominal","axis":null,"scale":{"type":"point","domain":["t1","t2","h1","h2","r1","r2","sp","total","het","test","b1"],"padding":0,"round":false}}}},
{"width":536,"height":310,"encoding":{"y":{"field":"r","type":"nominal","axis":null,"scale":{"type":"point","domain":["t1","t2","h1","h2","r1","r2","sp","total","het","test","b1"],"padding":0,"round":false}}},"layer":[
{"transform":[{"filter":"datum.r=='h1'||datum.r=='h2'"}],"mark":{"type":"text","align":"center","dx":-4,"dy":-6,"fontWeight":"bold","fontSize":20.5},"encoding":{"x":{"datum":0,"type":"quantitative","scale":{"domain":[-100,100],"nice":false,"zero":false},"axis":{"values":[-100,-50,0,50,100],"labelFlush":true,"title":null,"grid":false,"offset":-74.2,"domain":false,"tickColor":"#111","tickWidth":1.5,"tickSize":16,"labelPadding":0,"labelFontSize":22,"labelColor":"#111","labelFont":"DejaVu Sans"}},"text":{"field":"f"}}},
{"transform":[{"filter":"datum.r=='h2'"}],"mark":{"type":"rule","yOffset":11,"color":"#333","strokeWidth":2},"encoding":{}},
{"transform":[{"filter":"datum.r=='h2'"}],"mark":{"type":"rule","yOffset":-4.2,"color":"#111","strokeWidth":1.5},"encoding":{"y":{"datum":"het","type":"nominal"}}},
{"transform":[{"filter":"datum.r=='h2'"}],"mark":{"type":"rule","yOffset":11,"y2Offset":-4.2,"color":"#777","strokeWidth":2},"encoding":{"x":{"datum":0,"type":"quantitative","scale":{"domain":[-100,100],"nice":false,"zero":false},"axis":{"values":[-100,-50,0,50,100],"labelFlush":true,"title":null,"grid":false,"offset":-74.2,"domain":false,"tickColor":"#111","tickWidth":1.5,"tickSize":16,"labelPadding":0,"labelFontSize":22,"labelColor":"#111","labelFont":"DejaVu Sans"}},"y":{"datum":"h2","type":"nominal"},"y2":{"datum":"het"}}},
{"transform":[{"filter":"substring(datum.r,0,1)=='r'"}],"mark":{"type":"rule","color":"#222","strokeWidth":1.8},"encoding":{"x":{"field":"lo","type":"quantitative","scale":{"domain":[-100,100],"nice":false,"zero":false},"axis":{"values":[-100,-50,0,50,100],"labelFlush":true,"title":null,"grid":false,"offset":-74.2,"domain":false,"tickColor":"#111","tickWidth":1.5,"tickSize":16,"labelPadding":0,"labelFontSize":22,"labelColor":"#111","labelFont":"DejaVu Sans"}},"x2":{"field":"hi"}}},
{"transform":[{"filter":"substring(datum.r,0,1)=='r'"}],"mark":{"type":"square","filled":true,"color":"#3cb54a","opacity":1},"encoding":{"x":{"field":"md","type":"quantitative","scale":{"domain":[-100,100],"nice":false,"zero":false},"axis":{"values":[-100,-50,0,50,100],"labelFlush":true,"title":null,"grid":false,"offset":-74.2,"domain":false,"tickColor":"#111","tickWidth":1.5,"tickSize":16,"labelPadding":0,"labelFontSize":22,"labelColor":"#111","labelFont":"DejaVu Sans"}},"size":{"field":"wt","type":"quantitative","scale":{"domain":[0,50],"range":[0,380]},"legend":null}}},
{"transform":[{"filter":"datum.r=='total'"},{"fold":["lo","md","hi"],"as":["k","v"]}],"mark":{"type":"trail","color":"#000","clip":true},"encoding":{"x":{"field":"v","type":"quantitative","scale":{"domain":[-100,100],"nice":false,"zero":false},"axis":{"values":[-100,-50,0,50,100],"labelFlush":true,"title":null,"grid":false,"offset":-74.2,"domain":false,"tickColor":"#111","tickWidth":1.5,"tickSize":16,"labelPadding":0,"labelFontSize":22,"labelColor":"#111","labelFont":"DejaVu Sans"}},"size":{"condition":{"test":"datum.k=='md'","value":27},"value":0}}},
{"transform":[{"filter":"datum.r=='test'"}],"mark":{"type":"text","align":"right","dx":-9,"dy":11},"encoding":{"x":{"datum":0,"type":"quantitative","scale":{"domain":[-100,100],"nice":false,"zero":false},"axis":{"values":[-100,-50,0,50,100],"labelFlush":true,"title":null,"grid":false,"offset":-74.2,"domain":false,"tickColor":"#111","tickWidth":1.5,"tickSize":16,"labelPadding":0,"labelFontSize":22,"labelColor":"#111","labelFont":"DejaVu Sans"}},"text":{"value":"Favours CAL"}}},
{"transform":[{"filter":"datum.r=='test'"}],"mark":{"type":"text","align":"left","dx":9,"dy":11},"encoding":{"x":{"datum":0,"type":"quantitative","scale":{"domain":[-100,100],"nice":false,"zero":false},"axis":{"values":[-100,-50,0,50,100],"labelFlush":true,"title":null,"grid":false,"offset":-74.2,"domain":false,"tickColor":"#111","tickWidth":1.5,"tickSize":16,"labelPadding":0,"labelFontSize":22,"labelColor":"#111","labelFont":"DejaVu Sans"}},"text":{"value":"Favours Non-CAL"}}}
]},
{"width":22,"height":310,"transform":[{"filter":"datum.r=='h2'"}],"mark":{"type":"rule","yOffset":11,"color":"#333","strokeWidth":2},"encoding":{"y":{"field":"r","type":"nominal","axis":null,"scale":{"type":"point","domain":["t1","t2","h1","h2","r1","r2","sp","total","het","test","b1"],"padding":0,"round":false}}}}
]},
{"data":{"name":"E"},"spacing":0,"bounds":"flush","hconcat":[
{"width":34,"height":302,"transform":[{"filter":"datum.r=='h1'"}],"mark":{"type":"text","align":"left","fontWeight":"bold","fontSize":27,"dy":-38},"encoding":{"y":{"field":"r","type":"nominal","axis":null,"scale":{"type":"point","domain":["t1","t2","t3","t4","t5","h1","x1","h2","x2","r1","x3","r2","x4","sp","x5","total","x6","het","x7","test","b1"],"padding":0,"round":false}},"x":{"value":0},"text":{"field":"lab"}}},
{"width":364,"height":302,"encoding":{"y":{"field":"r","type":"nominal","axis":null,"scale":{"type":"point","domain":["t1","t2","t3","t4","t5","h1","x1","h2","x2","r1","x3","r2","x4","sp","x5","total","x6","het","x7","test","b1"],"padding":0,"round":false}}},"layer":[
{"transform":[{"filter":"substring(datum.r,0,1)=='r'||datum.r=='het'||datum.r=='test'"}],"mark":{"type":"text","align":"left","dx":16},"encoding":{"x":{"value":0},"text":{"field":"s"}}},
{"transform":[{"filter":"datum.r=='h2'||datum.r=='total'"}],"mark":{"type":"text","align":"left","dx":16,"dy":-6,"fontWeight":"bold","fontSize":20.5},"encoding":{"x":{"value":0},"text":{"field":"s"}}},
{"transform":[{"filter":"substring(datum.r,0,1)=='r'"}],"mark":{"type":"text","align":"right"},"encoding":{"x":{"value":"width"},"text":{"field":"cm"}}},
{"transform":[{"filter":"datum.r=='h2'"}],"mark":{"type":"text","align":"right","dy":-6,"fontWeight":"bold","fontSize":20.5},"encoding":{"x":{"value":"width"},"text":{"field":"cm"}}},
{"transform":[{"filter":"datum.r=='h2'"}],"mark":{"type":"rule","yOffset":10,"color":"#333","strokeWidth":2},"encoding":{}}
]},
{"width":87,"height":302,"encoding":{"y":{"field":"r","type":"nominal","axis":null,"scale":{"type":"point","domain":["t1","t2","t3","t4","t5","h1","x1","h2","x2","r1","x3","r2","x4","sp","x5","total","x6","het","x7","test","b1"],"padding":0,"round":false}}},"layer":[
{"transform":[{"filter":"substring(datum.r,0,1)=='r'"}],"mark":{"type":"text","align":"right"},"encoding":{"x":{"value":"width"},"text":{"field":"csd"}}},
{"transform":[{"filter":"datum.r=='h2'"}],"mark":{"type":"text","align":"right","dy":-6,"fontWeight":"bold","fontSize":20.5},"encoding":{"x":{"value":"width"},"text":{"field":"csd"}}},
{"transform":[{"filter":"datum.r=='h1'"}],"mark":{"type":"text","align":"center","dy":-6,"fontWeight":"bold","fontSize":20.5},"encoding":{"text":{"field":"csd"}}},
{"transform":[{"filter":"datum.r=='h2'"}],"mark":{"type":"rule","yOffset":10,"color":"#333","strokeWidth":2},"encoding":{}}
]},
{"width":81,"height":302,"encoding":{"y":{"field":"r","type":"nominal","axis":null,"scale":{"type":"point","domain":["t1","t2","t3","t4","t5","h1","x1","h2","x2","r1","x3","r2","x4","sp","x5","total","x6","het","x7","test","b1"],"padding":0,"round":false}}},"layer":[
{"transform":[{"filter":"substring(datum.r,0,1)=='r'"}],"mark":{"type":"text","align":"right"},"encoding":{"x":{"value":"width"},"text":{"field":"cn"}}},
{"transform":[{"filter":"datum.r=='h2'||datum.r=='total'"}],"mark":{"type":"text","align":"right","dy":-6,"fontWeight":"bold","fontSize":20.5},"encoding":{"x":{"value":"width"},"text":{"field":"cn"}}},
{"transform":[{"filter":"datum.r=='h2'"}],"mark":{"type":"rule","yOffset":10,"color":"#333","strokeWidth":2},"encoding":{}}
]},
{"width":88,"height":302,"encoding":{"y":{"field":"r","type":"nominal","axis":null,"scale":{"type":"point","domain":["t1","t2","t3","t4","t5","h1","x1","h2","x2","r1","x3","r2","x4","sp","x5","total","x6","het","x7","test","b1"],"padding":0,"round":false}}},"layer":[
{"transform":[{"filter":"substring(datum.r,0,1)=='r'"}],"mark":{"type":"text","align":"right"},"encoding":{"x":{"value":"width"},"text":{"field":"nm"}}},
{"transform":[{"filter":"datum.r=='h2'"}],"mark":{"type":"text","align":"right","dy":-6,"fontWeight":"bold","fontSize":20.5},"encoding":{"x":{"value":"width"},"text":{"field":"nm"}}},
{"transform":[{"filter":"datum.r=='h2'"}],"mark":{"type":"rule","yOffset":10,"color":"#333","strokeWidth":2},"encoding":{}}
]},
{"width":76,"height":302,"encoding":{"y":{"field":"r","type":"nominal","axis":null,"scale":{"type":"point","domain":["t1","t2","t3","t4","t5","h1","x1","h2","x2","r1","x3","r2","x4","sp","x5","total","x6","het","x7","test","b1"],"padding":0,"round":false}}},"layer":[
{"transform":[{"filter":"substring(datum.r,0,1)=='r'"}],"mark":{"type":"text","align":"right"},"encoding":{"x":{"value":"width"},"text":{"field":"nsd"}}},
{"transform":[{"filter":"datum.r=='h2'"}],"mark":{"type":"text","align":"right","dy":-6,"fontWeight":"bold","fontSize":20.5},"encoding":{"x":{"value":"width"},"text":{"field":"nsd"}}},
{"transform":[{"filter":"datum.r=='h1'"}],"mark":{"type":"text","align":"center","dy":-6,"fontWeight":"bold","fontSize":20.5},"encoding":{"text":{"field":"nsd"}}},
{"transform":[{"filter":"datum.r=='h2'"}],"mark":{"type":"rule","yOffset":10,"color":"#333","strokeWidth":2},"encoding":{}}
]},
{"width":81,"height":302,"encoding":{"y":{"field":"r","type":"nominal","axis":null,"scale":{"type":"point","domain":["t1","t2","t3","t4","t5","h1","x1","h2","x2","r1","x3","r2","x4","sp","x5","total","x6","het","x7","test","b1"],"padding":0,"round":false}}},"layer":[
{"transform":[{"filter":"substring(datum.r,0,1)=='r'"}],"mark":{"type":"text","align":"right"},"encoding":{"x":{"value":"width"},"text":{"field":"nn"}}},
{"transform":[{"filter":"datum.r=='h2'||datum.r=='total'"}],"mark":{"type":"text","align":"right","dy":-6,"fontWeight":"bold","fontSize":20.5},"encoding":{"x":{"value":"width"},"text":{"field":"nn"}}},
{"transform":[{"filter":"datum.r=='h2'"}],"mark":{"type":"rule","yOffset":10,"color":"#333","strokeWidth":2},"encoding":{}}
]},
{"width":106,"height":302,"encoding":{"y":{"field":"r","type":"nominal","axis":null,"scale":{"type":"point","domain":["t1","t2","t3","t4","t5","h1","x1","h2","x2","r1","x3","r2","x4","sp","x5","total","x6","het","x7","test","b1"],"padding":0,"round":false}}},"layer":[
{"transform":[{"filter":"substring(datum.r,0,1)=='r'"}],"mark":{"type":"text","align":"right"},"encoding":{"x":{"value":"width"},"text":{"field":"w"}}},
{"transform":[{"filter":"datum.r=='h2'||datum.r=='total'"}],"mark":{"type":"text","align":"right","dy":-6,"fontWeight":"bold","fontSize":20.5},"encoding":{"x":{"value":"width"},"text":{"field":"w"}}},
{"transform":[{"filter":"datum.r=='h2'"}],"mark":{"type":"rule","yOffset":10,"color":"#333","strokeWidth":2},"encoding":{}}
]},
{"width":304,"height":302,"encoding":{"y":{"field":"r","type":"nominal","axis":null,"scale":{"type":"point","domain":["t1","t2","t3","t4","t5","h1","x1","h2","x2","r1","x3","r2","x4","sp","x5","total","x6","het","x7","test","b1"],"padding":0,"round":false}}},"layer":[
{"transform":[{"filter":"substring(datum.r,0,1)=='r'"}],"mark":{"type":"text","align":"right"},"encoding":{"x":{"value":"width"},"text":{"field":"ci"}}},
{"transform":[{"filter":"datum.r=='h2'||datum.r=='total'"}],"mark":{"type":"text","align":"right","dy":-6,"fontWeight":"bold","fontSize":20.5},"encoding":{"x":{"value":"width"},"text":{"field":"ci"}}},
{"transform":[{"filter":"datum.r=='h1'"}],"mark":{"type":"text","align":"center","dy":-6,"fontWeight":"bold","fontSize":20.5},"encoding":{"text":{"field":"ci"}}},
{"transform":[{"filter":"datum.r=='h2'"}],"mark":{"type":"rule","yOffset":10,"color":"#333","strokeWidth":2},"encoding":{}}
]},
{"width":22,"height":302,"transform":[{"filter":"datum.r=='h2'"}],"mark":{"type":"rule","yOffset":10,"color":"#333","strokeWidth":2},"encoding":{"y":{"field":"r","type":"nominal","axis":null,"scale":{"type":"point","domain":["t1","t2","t3","t4","t5","h1","x1","h2","x2","r1","x3","r2","x4","sp","x5","total","x6","het","x7","test","b1"],"padding":0,"round":false}}}},
{"width":527,"height":302,"encoding":{"y":{"field":"r","type":"nominal","axis":null,"scale":{"type":"point","domain":["t1","t2","t3","t4","t5","h1","x1","h2","x2","r1","x3","r2","x4","sp","x5","total","x6","het","x7","test","b1"],"padding":0,"round":false}}},"layer":[
{"transform":[{"filter":"datum.r=='h1'||datum.r=='h2'"}],"mark":{"type":"text","align":"center","dx":-4,"dy":-6,"fontWeight":"bold","fontSize":20.5},"encoding":{"x":{"datum":0,"type":"quantitative","scale":{"domain":[-200,200],"nice":false,"zero":false},"axis":{"values":[-200,-100,0,100,200],"labelFlush":true,"title":null,"grid":false,"offset":-52.2,"domain":false,"tickColor":"#111","tickWidth":1.5,"tickSize":16,"labelPadding":0,"labelFontSize":22,"labelColor":"#111","labelFont":"DejaVu Sans"}},"text":{"field":"f"}}},
{"transform":[{"filter":"datum.r=='h2'"}],"mark":{"type":"rule","yOffset":10,"color":"#333","strokeWidth":2},"encoding":{}},
{"transform":[{"filter":"datum.r=='h2'"}],"mark":{"type":"rule","yOffset":1,"color":"#111","strokeWidth":1.5},"encoding":{"y":{"datum":"het","type":"nominal"}}},
{"transform":[{"filter":"datum.r=='h2'"}],"mark":{"type":"rule","yOffset":10,"y2Offset":1,"color":"#777","strokeWidth":2},"encoding":{"x":{"datum":0,"type":"quantitative","scale":{"domain":[-200,200],"nice":false,"zero":false},"axis":{"values":[-200,-100,0,100,200],"labelFlush":true,"title":null,"grid":false,"offset":-52.2,"domain":false,"tickColor":"#111","tickWidth":1.5,"tickSize":16,"labelPadding":0,"labelFontSize":22,"labelColor":"#111","labelFont":"DejaVu Sans"}},"y":{"datum":"h2","type":"nominal"},"y2":{"datum":"het"}}},
{"transform":[{"filter":"substring(datum.r,0,1)=='r'"}],"mark":{"type":"rule","color":"#222","strokeWidth":1.8},"encoding":{"x":{"field":"lo","type":"quantitative","scale":{"domain":[-200,200],"nice":false,"zero":false},"axis":{"values":[-200,-100,0,100,200],"labelFlush":true,"title":null,"grid":false,"offset":-52.2,"domain":false,"tickColor":"#111","tickWidth":1.5,"tickSize":16,"labelPadding":0,"labelFontSize":22,"labelColor":"#111","labelFont":"DejaVu Sans"}},"x2":{"field":"hi"}}},
{"transform":[{"filter":"substring(datum.r,0,1)=='r'"}],"mark":{"type":"square","filled":true,"color":"#3cb54a","opacity":1},"encoding":{"x":{"field":"md","type":"quantitative","scale":{"domain":[-200,200],"nice":false,"zero":false},"axis":{"values":[-200,-100,0,100,200],"labelFlush":true,"title":null,"grid":false,"offset":-52.2,"domain":false,"tickColor":"#111","tickWidth":1.5,"tickSize":16,"labelPadding":0,"labelFontSize":22,"labelColor":"#111","labelFont":"DejaVu Sans"}},"size":{"field":"wt","type":"quantitative","scale":{"domain":[0,50],"range":[0,400]},"legend":null}}},
{"transform":[{"filter":"datum.r=='total'"},{"fold":["lo","md","hi"],"as":["k","v"]}],"mark":{"type":"trail","color":"#000","clip":true},"encoding":{"x":{"field":"v","type":"quantitative","scale":{"domain":[-200,200],"nice":false,"zero":false},"axis":{"values":[-200,-100,0,100,200],"labelFlush":true,"title":null,"grid":false,"offset":-52.2,"domain":false,"tickColor":"#111","tickWidth":1.5,"tickSize":16,"labelPadding":0,"labelFontSize":22,"labelColor":"#111","labelFont":"DejaVu Sans"}},"size":{"condition":{"test":"datum.k=='md'","value":27},"value":0}}},
{"transform":[{"filter":"datum.r=='test'"}],"mark":{"type":"text","align":"right","dx":-9,"dy":14},"encoding":{"x":{"datum":0,"type":"quantitative","scale":{"domain":[-200,200],"nice":false,"zero":false},"axis":{"values":[-200,-100,0,100,200],"labelFlush":true,"title":null,"grid":false,"offset":-52.2,"domain":false,"tickColor":"#111","tickWidth":1.5,"tickSize":16,"labelPadding":0,"labelFontSize":22,"labelColor":"#111","labelFont":"DejaVu Sans"}},"text":{"value":"Favours CAL"}}},
{"transform":[{"filter":"datum.r=='test'"}],"mark":{"type":"text","align":"left","dx":9,"dy":14},"encoding":{"x":{"datum":0,"type":"quantitative","scale":{"domain":[-200,200],"nice":false,"zero":false},"axis":{"values":[-200,-100,0,100,200],"labelFlush":true,"title":null,"grid":false,"offset":-52.2,"domain":false,"tickColor":"#111","tickWidth":1.5,"tickSize":16,"labelPadding":0,"labelFontSize":22,"labelColor":"#111","labelFont":"DejaVu Sans"}},"text":{"value":"Favours Non-CAL"}}}
]},
{"width":19,"height":302,"transform":[{"filter":"datum.r=='h2'"}],"mark":{"type":"rule","yOffset":10,"color":"#333","strokeWidth":2},"encoding":{"y":{"field":"r","type":"nominal","axis":null,"scale":{"type":"point","domain":["t1","t2","t3","t4","t5","h1","x1","h2","x2","r1","x3","r2","x4","sp","x5","total","x6","het","x7","test","b1"],"padding":0,"round":false}}}}
]}
]
}
